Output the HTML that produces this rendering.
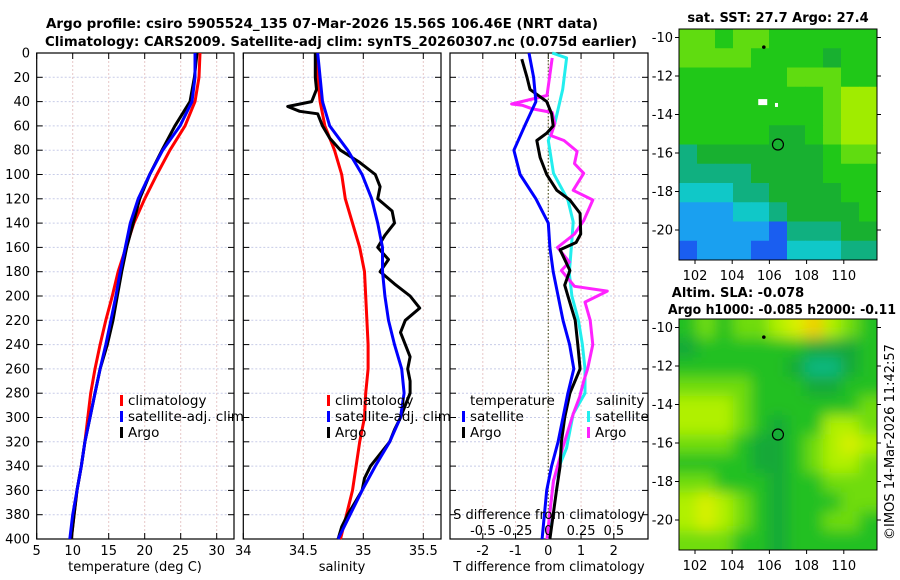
<!DOCTYPE html>
<html><head><meta charset="utf-8"><style>
html,body{margin:0;padding:0;background:#fff}
svg{display:block;font-family:"DejaVu Sans","Liberation Sans",sans-serif}
</style></head><body>
<svg id="fig" width="900" height="580" viewBox="0 0 900 580" xmlns="http://www.w3.org/2000/svg">
<defs>
<filter id="blur" x="-10%" y="-10%" width="120%" height="120%"><feGaussianBlur stdDeviation="7"/></filter>
<clipPath id="clipSla"><rect x="679" y="319" width="198" height="231"/></clipPath>
</defs>
<text x="322" y="28" font-size="13.5" font-weight="bold" text-anchor="middle" textLength="552" lengthAdjust="spacingAndGlyphs">Argo profile: csiro 5905524_135 07-Mar-2026 15.56S 106.46E (NRT data)</text>
<text x="341" y="46" font-size="13.5" font-weight="bold" text-anchor="middle" textLength="592" lengthAdjust="spacingAndGlyphs">Climatology: CARS2009. Satellite-adj clim: synTS_20260307.nc (0.075d earlier)</text>
<g id="layer"></g>
</svg>
<script>
// ---------- data ----------
const depthStd = [0,20,40,60,80,100,120,140,160,180,200,220,240,260,280,300,320,340,360,380,400];
const tempClim = [27.68,27.54,26.99,25.6,23.5,21.7,20.0,18.5,17.4,16.3,15.5,14.6,13.8,13.1,12.5,12.1,11.7,11.2,10.6,10.2,9.8];
const tempSat  = [26.99,26.99,26.57,24.9,22.5,20.7,19.1,18.0,17.3,16.6,16.0,15.3,14.6,13.8,13.1,12.4,11.7,11.2,10.6,10.0,9.6];
const tempArgo = [27.26,26.9,26.29,24.2,22.4,20.7,19.3,18.4,17.5,16.8,16.2,15.6,14.8,13.8,13.1,12.4,11.7,11.2,10.6,10.2,9.8];
const salClim  = [34.61,34.62,34.64,34.68,34.76,34.82,34.85,34.91,34.97,35.01,35.02,35.03,35.04,35.04,35.02,35.01,34.97,34.94,34.91,34.86,34.81];
const salSat   = [34.62,34.64,34.66,34.72,34.87,34.99,35.07,35.12,35.16,35.16,35.18,35.21,35.26,35.32,35.34,35.31,35.22,35.10,34.99,34.89,34.79];
const depthArgoS = [0,10,20,30,40,44,48,50,60,70,80,90,100,110,120,130,140,150,160,170,180,190,200,210,220,230,240,250,260,270,280,290,300,310,320,330,340,350,360,370,380,390,400];
const salArgo  = [34.60,34.60,34.60,34.61,34.57,34.37,34.47,34.62,34.66,34.72,34.81,34.97,35.10,35.14,35.12,35.24,35.26,35.18,35.12,35.21,35.14,35.26,35.39,35.47,35.35,35.31,35.35,35.39,35.37,35.39,35.39,35.35,35.31,35.26,35.22,35.14,35.06,35.01,34.99,34.93,34.87,34.82,34.79];
const dTSat = [-0.59,-0.45,-0.38,-0.72,-1.05,-0.86,-0.38,0.0,0.05,0.15,0.3,0.45,0.65,0.78,0.6,0.45,0.3,0.1,-0.05,-0.12,-0.19];
const depthArgoT = [5,20,30,40,50,60,66,72,86,100,113,121,132,149,156,162,179,191,200,220,240,260,280,300,320,340,360,380,400];
const dTArgo = [-0.81,-0.65,-0.56,-0.05,0.1,0.15,-0.05,-0.35,-0.25,-0.05,0.26,0.66,0.97,0.99,0.85,0.36,0.66,0.5,0.6,0.82,0.9,0.97,0.66,0.5,0.4,0.36,0.25,0.15,0.05];
const depthSatS = [0,4,30,58,72,99,121,139,154,181,200,220,240,260,280,297,325,352,380,400];
const dSSat = [0.03,0.14,0.11,0.05,0.0,0.04,0.15,0.19,0.18,0.16,0.18,0.23,0.26,0.28,0.28,0.19,0.14,0.04,0.01,0.0];
const depthArgoDS = [4,35,42,43,46,49,58,68,72,81,91,99,113,121,138,149,160,172,179,192,196,205,220,240,260,270,283,297,311,325,352,380,400];
const dSArgo = [0.03,-0.01,-0.28,-0.2,-0.12,0.03,0.05,0.02,0.12,0.22,0.2,0.27,0.19,0.34,0.27,0.2,0.07,0.16,0.1,0.2,0.45,0.28,0.32,0.34,0.3,0.27,0.24,0.19,0.15,0.11,0.04,0.01,-0.01];
const depthTicks = [0,20,40,60,80,100,120,140,160,180,200,220,240,260,280,300,320,340,360,380,400];
const tempTicks = [5,10,15,20,25,30];
const salTicks = [34,34.5,35,35.5];
const dTTicks = [-2,-1,0,1,2];
const dSTicks = [-0.5,-0.25,0,0.25,0.5];
const latTicks = [-10,-12,-14,-16,-18,-20];
const lonTicks = [102,104,106,108,110];
const sstGrid = [
[7,7,6,7,7,6,6,6,6,6,6],[7,7,7,7,6,6,6,6,5,6,6],[6,6,6,6,6,6,7,7,7,6,6],[6,6,6,6,6,6,6,6,7,8,8],
[6,6,6,6,6,6,6,6,7,8,8],[6,6,6,6,6,5,5,6,7,8,8],[4,5,5,5,5,5,5,5,6,7,7],[4,4,4,4,5,5,5,5,6,6,6],
[3,3,3,4,4,5,5,5,5,6,6],[2,2,2,3,3,4,5,5,5,5,6],[2,2,2,2,2,1,4,4,4,5,5],[1,2,2,2,1,1,3,3,3,4,4]];
const slaGrid = [
[3,4,3,4,4,5,6,7,5,4,3],[2,3,3,3,3,3,3,2,2,2,3],[3,3,3,3,3,3,2,1,1,2,3],[4,4,4,4,3,3,3,2,2,3,3],
[5,5,5,4,3,3,3,3,3,3,4],[5,5,5,4,3,2,3,3,5,5,4],[4,4,4,3,2,2,3,4,5,6,5],[3,3,3,3,2,2,3,4,5,5,4],
[4,4,3,3,3,2,3,3,4,4,4],[5,6,5,4,3,2,3,3,3,4,4],[5,6,5,4,3,2,3,3,4,4,3],[4,4,4,3,3,2,3,3,3,3,3]];
const argoPos = [106.46,-15.56];

// ---------- helpers ----------
const NS='http://www.w3.org/2000/svg';
const L=document.getElementById('layer');
function mk(tag,attrs,parent){const e=document.createElementNS(NS,tag);for(const k in attrs)e.setAttribute(k,attrs[k]);(parent||L).appendChild(e);return e;}
const Y0=53,Y1=539;
const yD=d=>Y0+(d/400)*(Y1-Y0);
const xT=t=>36.7+(t-5)*7.2;
const xS=s=>243.3+(s-34)*120;
const xDT=v=>548.3+v*32.75;
const xDS=v=>548.3+v*131;
const panels=[[36.7,234],[243.3,441],[450,648]];

panels.forEach((p,i)=>{
  const g=mk('g',{});
  
  
  depthTicks.forEach(d=>{
    const y=yD(d);
    const gl=mk('line',{x1:p[0],x2:p[1],y1:y,y2:y,stroke:'#c8cce8','stroke-width':1,'stroke-dasharray':'2,2'},g);
    
    
    mk('line',{x1:p[0],x2:p[0]+6,y1:y,y2:y,stroke:'#000'},g);
    mk('line',{x1:p[1],x2:p[1]-6,y1:y,y2:y,stroke:'#000'},g);
    if(i===0){const t=mk('text',{x:30,y:y+4.5,'font-size':13,'text-anchor':'end'},g);t.textContent=d;
      
      }
  });
});
function vgrid(vals,fx,labels,p){
  vals.forEach(v=>{const x=fx(v);
    if(x>p[0]+1&&x<p[1]-1){mk('line',{x1:x,x2:x,y1:Y0,y2:Y1,stroke:'#e8c8c8','stroke-width':1,'stroke-dasharray':'2,2'});}
    mk('line',{x1:x,x2:x,y1:Y1,y2:Y1-6,stroke:'#000'});
    mk('line',{x1:x,x2:x,y1:Y0,y2:Y0+6,stroke:'#000'});
    if(labels){const t=mk('text',{x:x,y:555,'font-size':13,'text-anchor':'middle'});t.textContent=v;
      
      }
  });
}
vgrid(tempTicks,xT,true,panels[0]);
vgrid(salTicks,xS,true,panels[1]);
vgrid(dTTicks,xDT,true,panels[2]);
const zl=mk('line',{x1:xDT(0),x2:xDT(0),y1:Y0,y2:Y1,stroke:'#556033','stroke-width':1.2,'stroke-dasharray':'1.5,2'});


panels.forEach(p=>{mk('rect',{x:p[0],y:Y0,width:p[1]-p[0],height:Y1-Y0,fill:'none',stroke:'#000','stroke-width':1.2});});

function series(ds,vals,fx,color,name,w){
  const pts=ds.map((d,i)=>fx(vals[i]).toFixed(1)+','+yD(d).toFixed(1)).join(' ');
  const pl=mk('polyline',{points:pts,fill:'none',stroke:color,'stroke-width':w||3,'stroke-linejoin':'round'});
  
  
}
series(depthStd,tempClim,xT,'#ff0000','temp-climatology-line');
series(depthStd,tempArgo,xT,'#000000','temp-argo-line');
series(depthStd,tempSat,xT,'#0000ff','temp-satellite-line');
series(depthStd,salClim,xS,'#ff0000','sal-climatology-line');
series(depthArgoS,salArgo,xS,'#000000','sal-argo-line');
series(depthStd,salSat,xS,'#0000ff','sal-satellite-line');
series(depthSatS,dSSat,xDS,'#22eeee','sal-diff-satellite-line');
series(depthArgoDS,dSArgo,xDS,'#ff22ff','sal-diff-argo-line');
series(depthArgoT,dTArgo,xDT,'#000000','temp-diff-argo-line');
series(depthStd,dTSat,xDT,'#0000ff','temp-diff-satellite-line');

dSTicks.forEach(v=>{const t=mk('text',{x:xDS(v),y:535,'font-size':13,'text-anchor':'middle'});t.textContent=v;
  
  });
function txt(x,y,s,name,opt){const t=mk('text',Object.assign({x:x,y:y,'font-size':13},opt||{}));t.textContent=s;
  
  return t;}
txt(549,519,'S difference from climatology','s-diff-axis-title',{'text-anchor':'middle'});
txt(135,571,'temperature (deg C)','temp-axis-title',{'text-anchor':'middle'});
txt(342,571,'salinity','sal-axis-title',{'text-anchor':'middle'});
txt(549,571,'T difference from climatology','t-diff-axis-title',{'text-anchor':'middle'});

function leg(x,y,color,label,name){
  mk('rect',{x:x,y:y-10,width:3,height:11,fill:color});
  txt(x+8,y,label,name,{'font-size':13.5});
}
leg(120,405,'#ff0000','climatology','legend-climatology');
leg(120,421,'#0000ff','satellite-adj. clim','legend-satellite');
leg(120,437,'#000000','Argo','legend-argo');
leg(327,405,'#ff0000','climatology','legend-climatology-2');
leg(327,421,'#0000ff','satellite-adj. clim','legend-satellite-2');
leg(327,437,'#000000','Argo','legend-argo-2');
txt(470,405,'temperature','legend-temperature-heading',{'font-size':13.5});
leg(462,421,'#0000ff','satellite','legend-temp-satellite');
leg(462,437,'#000000','Argo','legend-temp-argo');
txt(596,405,'salinity','legend-salinity-heading',{'font-size':13.5});
leg(587,421,'#22eeee','satellite','legend-sal-satellite');
leg(587,437,'#ff22ff','Argo','legend-sal-argo');

// ---------- maps ----------
const sstColors=['','#1a5ef0','#1aa0f0','#10c8c8','#10b080','#18b030','#20c818','#60dc10','#a0ec00','#e0e000'];
const slaColors=['','#10b880','#18a838','#20c020','#70dc10','#b0f000','#d8f000','#f0d000'];
function drawMap(grid,colors,top,bottom,name,blur){
  const x0=679,x1=877;
  const lonX=lo=>x0+(lo-101.14)*18.6;
  const g=mk('g',{});
  
  
  const cg=mk('g',blur?{'clip-path':'url(#clipSla)'}:{},g);
  const cg2=mk('g',blur?{filter:'url(#blur)'}:{},cg);
  const rows=grid.length,cols=grid[0].length;
  const cw=(x1-x0)/cols,ch=(bottom-top)/rows;
  grid.forEach((r,i)=>r.forEach((v,j)=>{
    let x=x0+j*cw,y=top+i*ch,w=cw+0.5,h=ch+0.5;
    if(blur){ if(j===0){x-=15;w+=15;} if(j===cols-1){w+=15;} if(i===0){y-=15;h+=15;} if(i===rows-1){h+=15;} }
    const c=mk('rect',{x:x,y:y,width:w,height:h,fill:colors[v]},cg2);
    
    
  }));
  mk('rect',{x:x0,y:top,width:x1-x0,height:bottom-top,fill:'none',stroke:'#000','stroke-width':1},g);
  const ly=la=>top+8.5+(-10-la)*((bottom-top)/12);
  latTicks.forEach(la=>{const y=ly(la);
    mk('line',{x1:x0,x2:x0-4,y1:y,y2:y,stroke:'#000'},g);
    mk('line',{x1:x1,x2:x1+4,y1:y,y2:y,stroke:'#000'},g);
    txt(673,y+4.5,String(la),'lat-tick-label',{'text-anchor':'end'});});
  lonTicks.forEach(lo=>{const x=lonX(lo);
    mk('line',{x1:x,x2:x,y1:bottom,y2:bottom+4,stroke:'#000'},g);
    txt(x,bottom+20,String(lo),'lon-tick-label',{'text-anchor':'middle'});});
  const cx=lonX(argoPos[0]),cy=ly(argoPos[1]);
  const m=mk('circle',{cx:cx,cy:cy,r:5.5,fill:'none',stroke:'#000','stroke-width':1.2},g);
  
  
  mk('circle',{cx:lonX(105.7),cy:ly(-10.5),r:1.8,fill:'#000'},g);
  return {lonX,ly};
}
const m1=drawMap(sstGrid,sstColors,29,260,'sst-map',false);
mk('rect',{x:m1.lonX(105.4),y:m1.ly(-13.2),width:9,height:6,fill:'#fff'});
mk('rect',{x:m1.lonX(106.3),y:m1.ly(-13.4),width:3,height:4,fill:'#fff'});
drawMap(slaGrid,slaColors,319,550,'sla-map',true);
txt(778,22,'sat. SST: 27.7 Argo: 27.4','sst-map-title',{'text-anchor':'middle','font-weight':'bold'});
txt(738,297,'Altim. SLA: -0.078','sla-map-title',{'text-anchor':'middle','font-weight':'bold'});
txt(782,314,'Argo h1000: -0.085 h2000: -0.11','sla-map-subtitle',{'text-anchor':'middle','font-weight':'bold',textLength:228,lengthAdjust:'spacingAndGlyphs'});
txt(0,0,'©IMOS 14-Mar-2026 11:42:57','copyright-timestamp',{'text-anchor':'middle',transform:'translate(894,442) rotate(-90)'});
</script>
</body></html>
